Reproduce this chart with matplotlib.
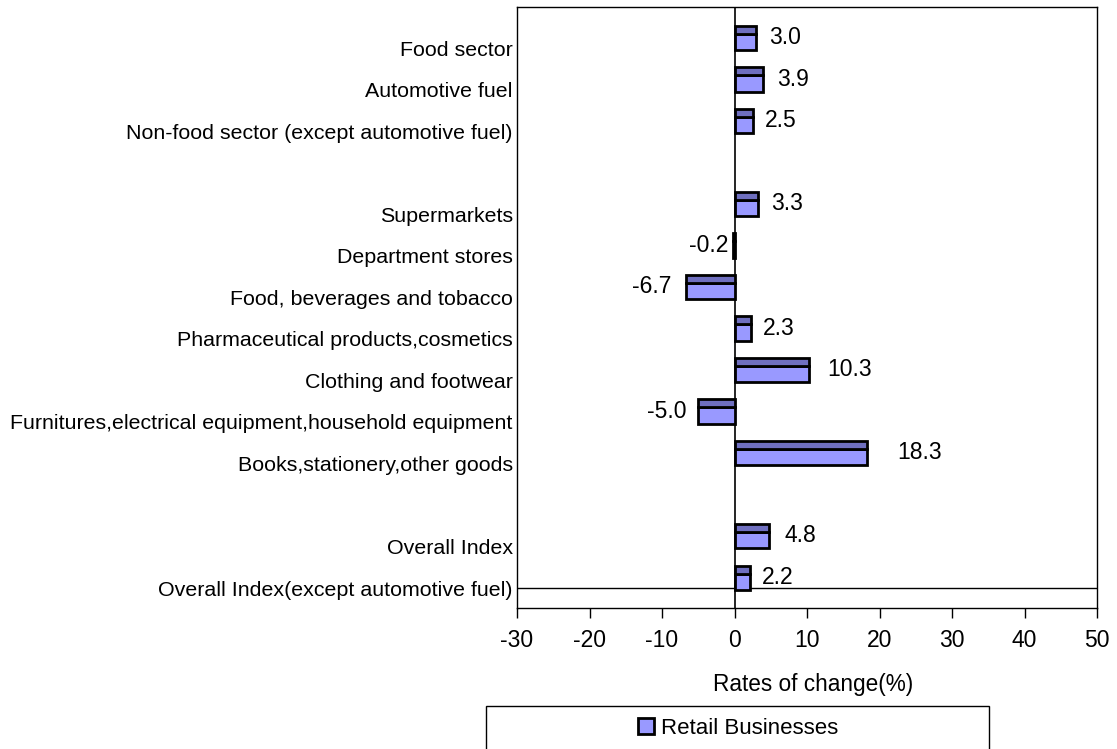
import matplotlib
matplotlib.use("Agg")
import matplotlib.pyplot as plt
from matplotlib.patches import Rectangle, Patch

plt.rcParams['font.family'] = ['Liberation Sans', 'DejaVu Sans']

categories = ["Food sector", "Automotive fuel", "Non-food sector (except automotive fuel)", "",
              "Supermarkets", "Department stores", "Food, beverages and tobacco",
              "Pharmaceutical products,cosmetics", "Clothing and footwear",
              "Furnitures,electrical equipment,household equipment",
              "Books,stationery,other goods", "", "Overall Index",
              "Overall Index(except automotive fuel)"]
values = [3.0, 3.9, 2.5, None, 3.3, -0.2, -6.7, 2.3, 10.3, -5.0, 18.3, None, 4.8, 2.2]
xticks = [-30, -20, -10, 0, 10, 20, 30, 40, 50]
series_name = "Retail Businesses"
xlabel = "Rates of change(%)"

FRONT = "#9999FF"
TOP = "#6F6FBF"

W, H = 1117, 749
fig = plt.figure(figsize=(W / 100, H / 100), dpi=100)
ax_l, ax_r, ax_t, ax_b = 517, 1097, 7, 608
ax = fig.add_axes([ax_l / W, 1 - ax_b / H, (ax_r - ax_l) / W, (ax_b - ax_t) / H])

row_px = 41.54
def px2row(p):
    return p / row_px

rows = list(range(len(categories)))
ax.set_ylim(px2row(ax_b - 48), px2row(ax_t - 48))
ax.set_xlim(-30, 50)

# 3D-look bars: front face and top face
for i, v in zip(rows, values):
    if v is None:
        continue
    f0, f1 = i + px2row(-14.5), i + px2row(2)
    t0, t1 = i + px2row(-22.5), i + px2row(-14.5)
    ax.barh((f0 + f1) / 2, v, height=f1 - f0, color=FRONT, edgecolor="black",
            linewidth=2.0, zorder=3)
    ax.barh((t0 + t1) / 2, v, height=t1 - t0, color=TOP, edgecolor="black",
            linewidth=2.0, zorder=3)
    sign = 1 if v >= 0 else -1
    lx = v * 1.214 + sign * 3.3
    ax.text(lx, i + px2row(-10.5), f"{v:.1f}", ha="center", va="center",
            fontsize=16.5, zorder=4)

ax.axvline(0, color="black", linewidth=1.2, zorder=2)
ax.axhline(rows[-1], color="black", linewidth=1.0, zorder=2)

ax.set_yticks(rows)
ax.set_yticklabels(categories, fontsize=15.4)
ax.tick_params(axis="y", length=0, pad=3)
ax.set_xticks(xticks)
ax.set_xticklabels([str(t) for t in xticks], fontsize=16.5)
ax.tick_params(axis="x", direction="out", length=7.2, width=1, pad=8, color="black")
for s in ax.spines.values():
    s.set_color("black")
    s.set_linewidth(1.0)

fig.text(813 / W, 1 - 684 / H, xlabel, ha="center", va="center", fontsize=16.3)

# legend box (extends past the bottom edge)
fig.patches.append(Rectangle((486 / W, -0.05), (989 - 486) / W, 0.05 + (749 - 706) / H,
                             transform=fig.transFigure, facecolor="white",
                             edgecolor="black", linewidth=1.0))
fig.legend(handles=[Patch(facecolor=FRONT, edgecolor="black", linewidth=2.0, label=series_name)],
           loc="center", bbox_to_anchor=(738 / W, 1 - 728 / H), frameon=False,
           fontsize=16, handlelength=0.75, handleheight=0.75, handletextpad=0.3)

fig.savefig("out.png", dpi=100)
